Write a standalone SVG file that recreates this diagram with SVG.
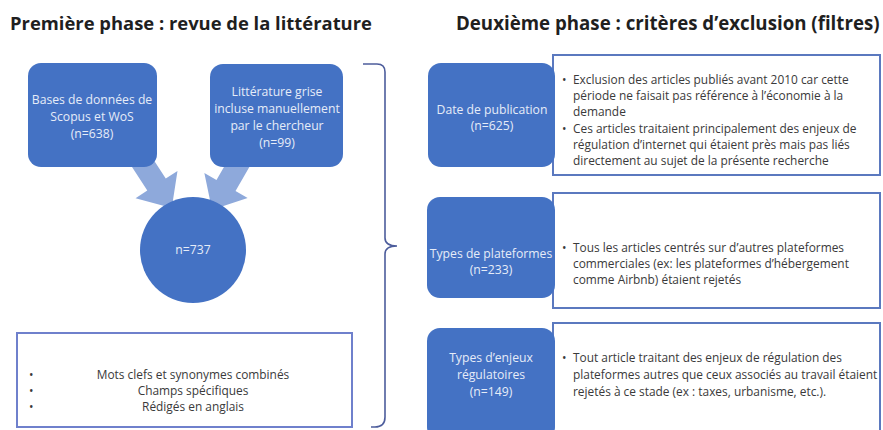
<svg xmlns="http://www.w3.org/2000/svg" width="883" height="430" viewBox="0 0 883 430">
<style>
.title{font-family:"Open Sans","Liberation Sans",sans-serif;font-weight:bold;font-size:18.4px;fill:#1f1f1f}
.blue{fill:#4472C4}
.wt{font-family:"Open Sans","Liberation Sans",sans-serif;font-size:12.2px;fill:#e6ecf8;text-anchor:middle}
.bt{font-family:"Open Sans","Liberation Sans",sans-serif;font-size:11.9px;fill:#3a3a3a}
.ct{font-family:"Open Sans","Liberation Sans",sans-serif;font-size:11.9px;fill:#3a3a3a;text-anchor:middle}
.wbox{fill:#ffffff;stroke:#5b79bf;stroke-width:2}
.arrow{fill:#8EA9DB}
</style>
<defs>
<path id="arr" d="M-11 0 L11 0 L11 34 L25 34 L0 62 L-25 34 L-11 34 Z"/>
</defs>
<rect width="883" height="430" fill="#ffffff"/>
<text class="title" x="10" y="30">Première phase : revue de la littérature</text>
<text class="title" x="456" y="30" style="font-size:18.7px">Deuxième phase : critères d’exclusion (filtres)</text>

<g id="connectors">
<use href="#arr" class="arrow" transform="translate(138,156) rotate(-33)"/>
<use href="#arr" class="arrow" transform="translate(243,156) rotate(30)"/>
<path d="M363 64 L377 64 Q385 64 385 72 L385 238 Q385 246 397 246 Q385 246 385 254 L385 417 Q385 427 375 427 L371 427" fill="none" stroke="#4d5d9c" stroke-width="1.6"/>
</g>

<g id="n-bases">
<rect x="28" y="63" width="129" height="104" rx="13" class="blue"/>
<text class="wt" x="92" y="104">Bases de données de</text>
<text class="wt" x="92" y="121">Scopus et WoS</text>
<text class="wt" x="92" y="138">(n=638)</text>
</g>
<g id="n-grise">
<rect x="210" y="64" width="133" height="103" rx="13" class="blue"/>
<text class="wt" x="277" y="96">Littérature grise</text>
<text class="wt" x="277" y="113">incluse manuellement</text>
<text class="wt" x="277" y="130">par le chercheur</text>
<text class="wt" x="277" y="147">(n=99)</text>
</g>
<g id="n-total">
<circle cx="193" cy="250" r="53" class="blue"/>
<text class="wt" x="193" y="254">n=737</text>
</g>
<g id="n-criteres">
<rect x="17" y="333" width="335" height="94" fill="#ffffff" stroke="#6f80cc" stroke-width="2"/>
<text class="bt" x="29" y="379">•</text>
<text class="bt" x="29" y="395">•</text>
<text class="bt" x="29" y="411">•</text>
<text class="ct" x="193" y="379">Mots clefs et synonymes combinés</text>
<text class="ct" x="193" y="395">Champs spécifiques</text>
<text class="ct" x="193" y="411">Rédigés en anglais</text>
</g>

<g id="n-date">
<rect x="553" y="55" width="327" height="120" class="wbox"/>
<rect x="428" y="63" width="127" height="104" rx="13" class="blue"/>
<text class="wt" x="492" y="114">Date de publication</text>
<text class="wt" x="492" y="130">(n=625)</text>
<text class="bt" x="562" y="84">•</text>
<text class="bt" x="573" y="84">Exclusion des articles publiés avant 2010 car cette</text>
<text class="bt" x="573" y="100">période ne faisait pas référence à l’économie à la</text>
<text class="bt" x="573" y="116">demande</text>
<text class="bt" x="562" y="133">•</text>
<text class="bt" x="573" y="133">Ces articles traitaient principalement des enjeux de</text>
<text class="bt" x="573" y="149">régulation d’internet qui étaient près mais pas liés</text>
<text class="bt" x="573" y="165">directement au sujet de la présente recherche</text>
</g>
<g id="n-plateformes">
<rect x="553" y="193" width="327" height="115" class="wbox"/>
<rect x="427" y="197" width="128" height="101" rx="13" class="blue"/>
<text class="wt" x="491" y="258">Types de plateformes</text>
<text class="wt" x="491" y="274">(n=233)</text>
<text class="bt" x="562" y="252">•</text>
<text class="bt" x="573" y="252">Tous les articles centrés sur d’autres plateformes</text>
<text class="bt" x="573" y="268">commerciales (ex: les plateformes d’hébergement</text>
<text class="bt" x="573" y="284">comme Airbnb) étaient rejetés</text>
</g>
<g id="n-enjeux">
<rect x="553" y="323" width="327" height="115" class="wbox"/>
<rect x="427" y="328" width="128" height="112" rx="13" class="blue"/>
<text class="wt" x="491" y="362">Types d’enjeux</text>
<text class="wt" x="491" y="379">régulatoires</text>
<text class="wt" x="491" y="396">(n=149)</text>
<text class="bt" x="562" y="362">•</text>
<text class="bt" x="573" y="362">Tout article traitant des enjeux de régulation des</text>
<text class="bt" x="573" y="379">plateformes autres que ceux associés au travail étaient</text>
<text class="bt" x="573" y="396">rejetés à ce stade (ex : taxes, urbanisme, etc.).</text>
</g>
</svg>
